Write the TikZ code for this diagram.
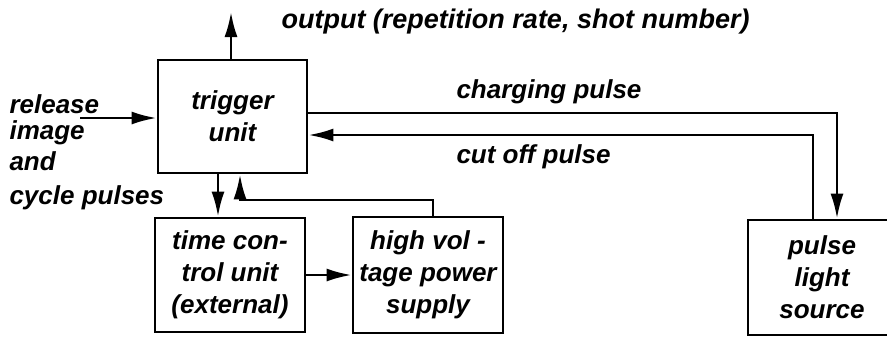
\documentclass[tikz,border=0pt]{standalone}
\usepackage{fontspec}
\setmainfont{Liberation Sans}
\usetikzlibrary{arrows.meta, calc}

\begin{document}
\begin{tikzpicture}[x=1pt, y=-1pt,
	every node/.style={font=\fontsize{26}{32}\selectfont\bfseries\itshape},
	box/.style={draw, line width=2.8pt, align=center, inner sep=0pt},
	arr/.style={line width=2.6pt, -{Latex[length=25pt, width=13pt]}}]
	\useasboundingbox (0,0) rectangle (887,338);
	% blocks
	\node[box, minimum width=149pt, minimum height=113pt] (trig) at (232.5,116.5) {trigger\\unit};
	\node[box, minimum width=150pt, minimum height=114pt] (time) at (230,275) {time con-\\trol unit\\(external)};
	\node[box, minimum width=150pt, minimum height=116pt] (hv) at (428,275) {high vol -\\tage power\\supply};
	\node[box, minimum width=148pt, minimum height=115pt] (pls) at (822,277.5) {pulse\\light\\source};
	\coordinate (out) at (231,12); \coordinate (rel) at (80,118);
	\coordinate (cp) at (837,113); \coordinate (co) at (813,135);
	\coordinate (dn) at (218,0); \coordinate (fb) at (240,200);
	\coordinate (hvup) at (433,200);
	% signals
	\draw[arr] (out |- trig.north) -- (out);
	\draw[arr] (rel) -- (rel -| trig.west);
	\draw[arr] (trig.east |- cp) -| (cp |- pls.north);
	\draw[arr] (co |- pls.north) |- (trig.east |- co);
	\draw[arr] (dn |- trig.south) -- (dn |- time.north);
	\draw[arr] (hvup |- hv.north) |- (fb) -- (fb |- trig.south);
	\draw[arr] (time) -- (hv);
	% labels
	\node[anchor=west, font=\fontsize{27}{32}\selectfont\bfseries\itshape] (lout) at (278,22) {output (repetition rate, shot number)};
	\node[anchor=west] (lcp) at (453,92) {charging pulse};
	\node[anchor=west] (lco) at (453,157) {cut off pulse};
	\node[anchor=west] (l1) at (6,104) {release};
	\node[anchor=west] (l2) at (6,133) {image};
	\node[anchor=west] (l3) at (6,161) {and};
	\node[anchor=west] (l4) at (6,198) {cycle pulses};
\end{tikzpicture}
\end{document}
